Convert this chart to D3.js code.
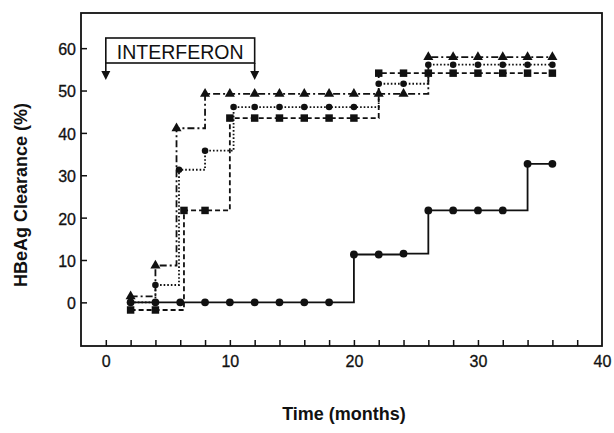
<!DOCTYPE html>
<html>
<head>
<meta charset="utf-8">
<script src="https://cdn.jsdelivr.net/npm/d3@7"></script>
<style>
  body { margin: 0; background: #fff; }
  svg { display: block; font-family: "Liberation Sans", Arial, Helvetica, sans-serif; }
  .tick text { font-size: 16px; fill: #111; stroke: #111; stroke-width: 0.3px; }
  .axis-title { font-size: 18px; font-weight: bold; fill: #111; }
</style>
</head>
<body>
<div id="chart"></div>
<script>
// months / HBeAg clearance (%)
const controlMonths = [2, 4, 6, 8, 10, 12, 14, 16, 18, 20, 22, 24, 26, 28, 30, 32, 34, 36];
const controlValues = [0, 0, 0, 0, 0, 0, 0, 0, 0, 11.3, 11.3, 11.5, 21.7, 21.7, 21.7, 21.7, 32.7, 32.7];

const triangleMonths = [2, 4, 5.7, 8, 10, 12, 14, 16, 18, 20, 22, 24, 26, 28, 30, 32, 34, 36];
const triangleValues = [1.4, 8.7, 41.1, 49.2, 49.2, 49.2, 49.2, 49.2, 49.2, 49.2, 49.2, 49.2, 57.9, 57.9, 57.9, 57.9, 57.9, 57.9];

const dottedMonths = [2, 4, 5.9, 8, 10.3, 12, 14, 16, 18, 20, 22, 24, 26, 28, 30, 32, 34, 36];
const dottedValues = [0, 4.1, 31.3, 35.8, 46.1, 46.1, 46.1, 46.1, 46.1, 46.1, 51.6, 51.6, 56.1, 56.1, 56.1, 56.1, 56.1, 56.1];

const squareMonths = [2, 4, 6.3, 8, 10, 12, 14, 16, 18, 20, 22, 24, 26, 28, 30, 32, 34, 36];
const squareValues = [-1.8, -1.8, 21.7, 21.7, 43.5, 43.5, 43.5, 43.5, 43.5, 43.5, 54.1, 54.1, 54.1, 54.1, 54.1, 54.1, 54.1, 54.1];

const xTickLabels = [0, 10, 20, 30, 40];
const yTickLabels = [0, 10, 20, 30, 40, 50, 60];
const therapyStart = 0;
const therapyEnd = 12;
const therapyLabel = 'INTERFERON';

const width = 614, height = 433;
const svg = d3.select('#chart').append('svg')
  .attr('width', width)
  .attr('height', height);

const x = d3.scaleLinear().domain([-2, 40]).range([81, 602]);
const y = d3.scaleLinear().domain([-10.3, 68.3]).range([346, 13]);

// frame
svg.append('rect')
  .attr('x', x(-2)).attr('y', y(68.3))
  .attr('width', x(40) - x(-2)).attr('height', y(-10.3) - y(68.3))
  .attr('fill', 'none').attr('stroke', '#111').attr('stroke-width', 1.8);

// axes, ticks pointing into the plot
const xMinor = d3.range(0, 40, 2);
svg.append('g')
  .attr('transform', `translate(0,${y(-10.3)})`)
  .call(d3.axisBottom(x).tickValues(xMinor).tickSize(-6).tickFormat(''))
  .call(g => g.select('.domain').remove())
  .call(g => g.selectAll('line').attr('stroke', '#111').attr('stroke-width', 1.5));

svg.append('g')
  .attr('transform', `translate(0,${y(-10.3)})`)
  .call(d3.axisBottom(x).tickValues(xTickLabels).tickSize(0).tickPadding(10).tickFormat(d3.format('d')))
  .call(g => g.select('.domain').remove())
  .call(g => g.selectAll('text').attr('dy', '0.71em'));

svg.append('g')
  .attr('transform', `translate(${x(-2)},0)`)
  .call(d3.axisLeft(y).tickValues(yTickLabels).tickSize(-6).tickPadding(5).tickFormat(d3.format('d')))
  .call(g => g.select('.domain').remove())
  .call(g => g.selectAll('line').attr('stroke', '#111').attr('stroke-width', 1.5))
  .call(g => g.selectAll('text').attr('dy', '0.4em'));

// axis titles
svg.append('text')
  .attr('class', 'axis-title')
  .attr('transform', `translate(21,${195}) rotate(-90)`)
  .attr('text-anchor', 'middle')
  .attr('dominant-baseline', 'central')
  .text('HBeAg Clearance (%)');

svg.append('text')
  .attr('class', 'axis-title')
  .attr('x', 344)
  .attr('y', 420)
  .attr('text-anchor', 'middle')
  .text('Time (months)');

// interferon bar
const boxTop = 38, boxBottom = 63, arrowTip = 80;
const ann = svg.append('g').attr('stroke', '#111').attr('stroke-width', 1.6).attr('fill', 'none');
ann.append('rect')
  .attr('x', x(therapyStart)).attr('y', boxTop)
  .attr('width', x(therapyEnd) - x(therapyStart)).attr('height', boxBottom - boxTop);
[therapyStart, therapyEnd].forEach(m => {
  ann.append('line')
    .attr('x1', x(m)).attr('x2', x(m))
    .attr('y1', boxBottom).attr('y2', arrowTip - 6);
  svg.append('path')
    .attr('d', `M${x(m) - 4.5},${arrowTip - 9}L${x(m) + 4.5},${arrowTip - 9}L${x(m)},${arrowTip}Z`)
    .attr('fill', '#111');
});
svg.append('text')
  .attr('x', (x(therapyStart) + x(therapyEnd)) / 2)
  .attr('y', (boxTop + boxBottom) / 2 + 1)
  .attr('text-anchor', 'middle')
  .attr('dominant-baseline', 'central')
  .attr('font-size', 19.5)
  .attr('fill', '#111')
  .text(therapyLabel);

// step curves
const series = [
  { months: squareMonths, values: squareValues, dash: '5,3', symbol: d3.symbolSquare, size: 56 },
  { months: dottedMonths, values: dottedValues, dash: '1.6,2', symbol: d3.symbolCircle, size: 34 },
  { months: triangleMonths, values: triangleValues, dash: '7,3,2,3', symbol: d3.symbolTriangle, size: 44 },
  { months: controlMonths, values: controlValues, dash: null, symbol: d3.symbolCircle, size: 48 }
];

const line = d3.line()
  .x(d => x(d[0]))
  .y(d => y(d[1]))
  .curve(d3.curveStepAfter);

series.forEach(s => {
  const pts = s.months.map((m, i) => [m, s.values[i]]);
  svg.append('path')
    .datum(pts)
    .attr('d', line)
    .attr('fill', 'none')
    .attr('stroke', '#111')
    .attr('stroke-width', 1.8)
    .attr('stroke-dasharray', s.dash);
  svg.append('g').selectAll('path')
    .data(pts)
    .join('path')
    .attr('transform', d => `translate(${x(d[0])},${y(d[1])})`)
    .attr('d', d3.symbol().type(s.symbol).size(s.size))
    .attr('fill', '#111');
});
</script>
</body>
</html>
